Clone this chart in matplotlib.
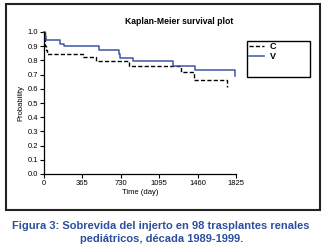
import matplotlib
matplotlib.use('Agg')
import matplotlib.pyplot as plt
import matplotlib.patches as mpatches
from matplotlib.lines import Line2D

# Kaplan-Meier curves (days, survival probability)
c_days = [0, 5, 15, 25, 371, 498, 809, 1305, 1428, 1740]
c_prob = [1.0, 0.90, 0.875, 0.847, 0.824, 0.797, 0.762, 0.716, 0.662, 0.61]
v_days = [0, 5, 20, 156, 190, 523, 713, 725, 846, 1226, 1432, 1812]
v_prob = [1.0, 0.97, 0.946, 0.918, 0.899, 0.875, 0.847, 0.82, 0.795, 0.758, 0.73, 0.69]

x_ticks = [0, 365, 730, 1095, 1460, 1825]
y_ticks = [0.0, 0.1, 0.2, 0.3, 0.4, 0.5, 0.6, 0.7, 0.8, 0.9, 1.0]

plt.rcParams['font.family'] = ['Liberation Sans Narrow', 'Liberation Sans', 'DejaVu Sans']

blue = '#3a56a5'
cap_blue = '#2d4f9e'
W, H = 325, 248
fig = plt.figure(figsize=(W / 100, H / 100), dpi=100)

ax = fig.add_axes([44 / W, 1 - 174 / H, (236 - 44) / W, (174 - 32) / H])
ax.plot(c_days, c_prob, drawstyle='steps-post', color='black', lw=1.0,
        dashes=(3, 1.6), clip_on=False)
ax.plot(v_days, v_prob, drawstyle='steps-post', color=blue, lw=1.1, clip_on=False)

ax.set_xlim(0, 1825)
ax.set_ylim(0, 1.0)
ax.set_xticks(x_ticks)
ax.set_xticklabels([str(t) for t in x_ticks])
ax.set_yticks(y_ticks)
ax.set_yticklabels(['%.1f' % t for t in y_ticks])
ax.tick_params(direction='out', length=3, width=0.8, labelsize=5.5, pad=1.5)
for s in ['top', 'right']:
    ax.spines[s].set_visible(False)
for s in ['left', 'bottom']:
    ax.spines[s].set_linewidth(0.9)
ax.set_xlabel('Time (day)', fontsize=5.5, labelpad=1)
ax.set_ylabel('Probability', fontsize=5.5, labelpad=2)

fig.text(179 / W, 1 - 22 / H, 'Kaplan-Meier survival plot', ha='center', va='center',
         fontsize=6.2, fontweight='bold', family=['Liberation Sans', 'DejaVu Sans'])

# legend box
fig.patches.append(mpatches.Rectangle((247 / W, 1 - 77 / H), (310 - 247) / W, (77 - 41) / H,
                                      transform=fig.transFigure, fill=False, lw=1.0,
                                      edgecolor='black'))
handles = [Line2D([], [], color='black', lw=1.0, dashes=(3, 1.6)),
           Line2D([], [], color=blue, lw=1.1)]
fig.legend(handles, ['C', 'V'], loc='upper left', bbox_to_anchor=(247 / W, 1 - 40 / H),
           frameon=False, handlelength=1.7, handletextpad=0.6, labelspacing=0.1,
           borderpad=0.2, borderaxespad=0,
           prop={'size': 6.5, 'weight': 'bold', 'family': ['Liberation Sans', 'DejaVu Sans']})

# outer frame of the figure panel
fig.patches.append(mpatches.Rectangle((6 / W, 1 - 210 / H), (320 - 6) / W, (210 - 4) / H,
                                      transform=fig.transFigure, fill=False, lw=1.5,
                                      edgecolor='#222222'))

fig.text(161 / W, 1 - 226 / H, 'Figura 3: Sobrevida del injerto en 98 trasplantes renales',
         ha='center', va='center', fontsize=8.0, fontweight='bold', color=cap_blue,
         family=['Liberation Sans', 'DejaVu Sans'])
fig.text(162 / W, 1 - 238.5 / H, 'pediátricos, década 1989-1999.',
         ha='center', va='center', fontsize=8.0, fontweight='bold', color=cap_blue,
         family=['Liberation Sans', 'DejaVu Sans'])

fig.savefig('out.png', dpi=100)
